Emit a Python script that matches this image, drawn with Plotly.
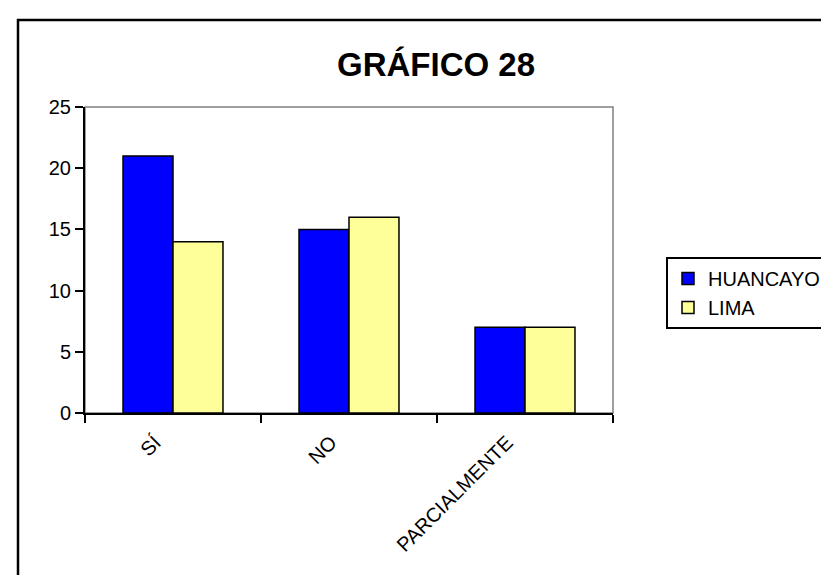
import plotly.graph_objects as go

categories = ["SÍ", "NO", "PARCIALMENTE"]
huancayo = [21, 15, 7]
lima = [14, 16, 7]
series_names = ["HUANCAYO", "LIMA"]
y_ticks = [0, 5, 10, 15, 20, 25]
title_text = "GRÁFICO 28"

FONT = "Liberation Sans, Arial, sans-serif"
W, H = 829, 575
L, R, T, B = 77, 224, 99, 170
pw = W - L - R
ph = H - T - B

def px_x(p):
    return (p - L) / pw

def px_y(p):
    return (H - B - p) / ph

fig = go.Figure()
fig.add_trace(go.Bar(x=categories, y=huancayo, name=series_names[0],
                     marker=dict(color="#0000FF", line=dict(color="black", width=1.5))))
fig.add_trace(go.Bar(x=categories, y=lima, name=series_names[1],
                     marker=dict(color="#FFFF99", line=dict(color="black", width=1.5))))

fig.update_layout(
    width=W, height=H,
    margin=dict(l=L, r=R, t=T, b=B, autoexpand=False),
    paper_bgcolor="white", plot_bgcolor="white",
    barmode="group", bargap=0.432, bargroupgap=0,
    font=dict(family=FONT, color="black", size=19),
    title=dict(text="<b>" + title_text + "</b>", font=dict(family=FONT, size=33, color="black"),
               x=428 / W, xref="container", xanchor="center",
               y=1 - 56 / H, yref="container", yanchor="middle"),
    legend=dict(x=px_x(658), y=px_y(249), xanchor="left", yanchor="top",
                bgcolor="white", bordercolor="black", borderwidth=2,
                font=dict(family=FONT, size=20, color="black"),
                tracegroupgap=0, itemwidth=30),
    xaxis=dict(showline=True, linecolor="black", linewidth=2, ticks="outside",
               tickson="boundaries", ticklen=8, tickwidth=1.5, tickcolor="black",
               tickangle=-45, showgrid=False, tickfont=dict(size=20),
               ticklabelshift=-18, ticklabelstandoff=8),
    yaxis=dict(range=[0, 25], tickvals=y_ticks, showline=True, linecolor="black", linewidth=2,
               ticks="outside", ticklen=8, tickwidth=1.5, tickcolor="black",
               showgrid=False, zeroline=False, tickfont=dict(size=20)),
    shapes=[
        dict(type="rect", xref="paper", yref="paper", x0=0, x1=1, y0=0, y1=1,
             line=dict(color="#808080", width=1.5), layer="below"),
        dict(type="rect", xref="paper", yref="paper", x0=px_x(10), x1=2.0, y0=-2.0, y1=px_y(12),
             line=dict(color="black", width=2.5), layer="above"),
    ],
)

fig.write_html("out.html")
